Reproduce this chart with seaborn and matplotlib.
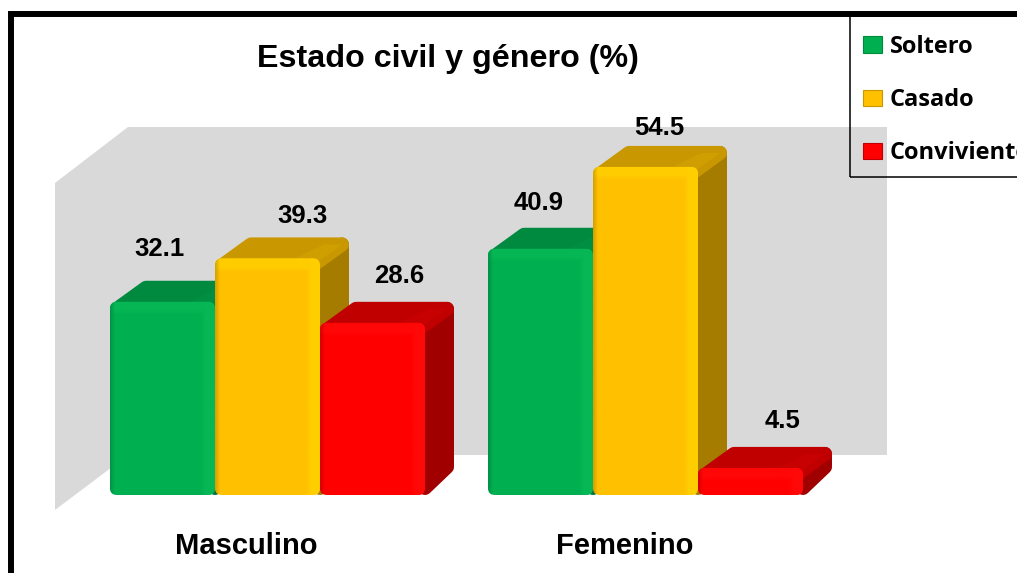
# Estado civil y genero (%) - barras con aspecto 3D
import numpy as np
import pandas as pd
import seaborn as sns
import matplotlib.pyplot as plt
from matplotlib.patches import Polygon, Rectangle, FancyBboxPatch
from matplotlib.transforms import Affine2D, IdentityTransform
from matplotlib.colors import to_rgb

generos = ['Masculino', 'Femenino']
estados = ['Soltero', 'Casado', 'Conviviente']
soltero = [32.1, 40.9]
casado = [39.3, 54.5]
conviviente = [28.6, 4.5]

# colores por estado: frente, tapa, lado, brillo
frente = ['#00b050', '#ffc000', '#ff0000']
tapa = ['#008a40', '#c99800', '#c00000']
lado = ['#00703a', '#a67c00', '#a00000']
brillo = ['#08b856', '#ffd000', '#ff0a0a']

# desplazamiento a mano de cada etiqueta (px) respecto al centro de la barra
label_dx = {'Soltero': [-3, -2], 'Casado': [35, 14], 'Conviviente': [27, 32]}
label_dy = {'Soltero': [53, 46], 'Casado': [42, 39], 'Conviviente': [47, 47]}

W, H = 1017, 573
DX, DY = 29, 21  # profundidad en px
R = 7            # redondeo de las aristas

df = pd.DataFrame({
    'genero': generos * 3,
    'estado': [e for e in estados for _ in generos],
    'valor': soltero + casado + conviviente,
})


def fx(x):
    return x / W


def fy(y):
    return 1 - y / H


sns.set_theme(style='white')
plt.rcParams['font.family'] = ['Liberation Sans', 'DejaVu Sans']

fig = plt.figure(figsize=(W / 100, H / 100), dpi=100, facecolor='white')
ax = fig.add_axes([fx(78.5), fy(495), 756 / W, 361.2 / H])
ax.patch.set_visible(False)
ax.set_zorder(5)

# pared del fondo y pared izquierda
pared = [(55, 183), (128, 127), (887, 127), (887, 455), (128, 455), (55, 510)]
fig.patches.append(Polygon([(fx(a), fy(b)) for a, b in pared], closed=True, facecolor='#d9d9d9',
                           edgecolor='none', transform=fig.transFigure, figure=fig))
# marco negro (se sale por la derecha y por abajo)
fig.patches.append(Rectangle((fx(11), fy(800)), 1.5, fy(14) - fy(800), fill=False, edgecolor='black',
                             linewidth=4.3, transform=fig.transFigure, figure=fig))
# recuadro de la leyenda
fig.patches.append(Rectangle((fx(850), fy(177)), 0.5, fy(16) - fy(177), fill=False, edgecolor='black',
                             linewidth=1.1, transform=fig.transFigure, figure=fig))

sns.barplot(data=df, x='genero', y='valor', hue='estado', order=generos, hue_order=estados,
            palette=frente, width=0.8333, gap=0, saturation=1, errorbar=None, linewidth=0, ax=ax)
ax.set_xlim(-0.5, 1.5)
ax.set_ylim(0, 60)


def bisel(i, ext, z, clip, ancho, alto):
    # banda clara a la derecha y arriba, borde oscuro a la izquierda
    ny, nx = int(alto), int(ancho)
    xx, yy = np.meshgrid(np.arange(nx) + 0.5, np.arange(ny) + 0.5)
    a = np.clip((xx - (nx - 14)) / 5, 0, 1) * 0.9
    a = np.maximum(a, np.clip(1 - (yy - 9) / 5, 0, 1) * 0.8)
    img = np.zeros((ny, nx, 4))
    img[..., :3] = to_rgb(brillo[i])
    img[..., 3] = a
    im = ax.imshow(img, extent=ext, aspect='auto', zorder=z, interpolation='bilinear')
    im.set_clip_path(clip)
    img2 = np.zeros((ny, nx, 4))
    img2[..., :3] = to_rgb(lado[i])
    img2[..., 3] = np.clip(1 - xx / 5, 0, 1) * 0.5
    im2 = ax.imshow(img2, extent=ext, aspect='auto', zorder=z, interpolation='bilinear')
    im2.set_clip_path(clip)


# volumen: lado y tapa de cada barra, de izquierda a derecha
barras = []
for i, cont in enumerate(ax.containers):
    for j, bar in enumerate(cont):
        barras.append((bar.get_x(), i, j, bar))
barras.sort(key=lambda b: b[0])

for n, (_, i, j, bar) in enumerate(barras):
    z = 3 + n * 3
    x0, y0 = ax.transData.transform((bar.get_x(), 0))
    x1, y1 = ax.transData.transform((bar.get_x() + bar.get_width(), bar.get_height()))
    r = R
    lw = 2 * r * 0.72
    pts_lado = [(x1, y0 + r), (x1 + DX - r, y0 + DY + r), (x1 + DX - r, y1 + DY - r), (x1, y1 - r)]
    pts_tapa = [(x0 + r, y1 - r), (x0 + DX + r, y1 + DY - r), (x1 + DX - r, y1 + DY - r), (x1 - r, y1 - r)]
    pts_claro = [(x1 - 25, y1), (x1 - 25 + DX, y1 + DY - r), (x1 + DX - r, y1 + DY - r), (x1 - r, y1 - r)]
    ax.add_patch(Polygon(pts_lado, closed=True, facecolor=lado[i], edgecolor=lado[i], linewidth=lw,
                         joinstyle='round', transform=IdentityTransform(), zorder=z, clip_on=False))
    ax.add_patch(Polygon(pts_tapa, closed=True, facecolor=tapa[i], edgecolor=tapa[i], linewidth=lw,
                         joinstyle='round', transform=IdentityTransform(), zorder=z, clip_on=False))
    ax.add_patch(Polygon(pts_claro, closed=True, facecolor=brillo[i], edgecolor='none', alpha=0.12,
                         transform=IdentityTransform(), zorder=z, clip_on=False))
    forma = FancyBboxPatch((x0, y0), x1 - x0, y1 - y0, boxstyle=f'round,pad=0,rounding_size={r}',
                           transform=IdentityTransform())
    bar.set_zorder(z + 1)
    bar.set_clip_path(forma)
    ext = (bar.get_x(), bar.get_x() + bar.get_width(), 0, bar.get_height())
    bisel(i, ext, z + 2, forma, x1 - x0, y1 - y0)

ax.set_xlim(-0.5, 1.5)
ax.set_ylim(0, 60)

# etiquetas de valor
for _, i, j, bar in barras:
    est = estados[i]
    ax.annotate(f'{bar.get_height():.1f}', (bar.get_x() + bar.get_width() / 2, bar.get_height()),
                xytext=(label_dx[est][j], label_dy[est][j]), textcoords='offset pixels',
                ha='center', va='center', fontsize=18.5, fontweight='bold', color='black',
                zorder=100, annotation_clip=False)

# ejes
sns.despine(ax=ax, left=True, bottom=True, top=True, right=True)
ax.set_xlabel('')
ax.set_ylabel('')
ax.set_yticks([])
ax.tick_params(axis='x', length=0, pad=27)
ax.set_xticks(range(len(generos)))
ax.set_xticklabels(generos, fontsize=21, fontweight='bold', color='black')
for lab in ax.get_xticklabels():
    lab.set_transform(lab.get_transform() + Affine2D().translate(-21, 0))

fig.text(fx(447.5), fy(59), 'Estado civil y género (%)', ha='center', va='center',
         fontsize=23.2, fontweight='bold', color='black')

# leyenda: se corta por el borde derecho igual que el original
sns.move_legend(ax, 'upper left', bbox_to_anchor=(fx(863), fy(35)), bbox_transform=fig.transFigure,
                title=None, frameon=False, borderaxespad=0, borderpad=0, labelspacing=1.23,
                handlelength=0.8, handleheight=0.7, handletextpad=0.34, labelcolor='black',
                prop={'family': 'Open Sans', 'weight': 'bold', 'size': 17})
leg = ax.get_legend()
leg.set_zorder(200)
for h, c in zip(leg.legend_handles, tapa):
    h.set_edgecolor(c)
    h.set_linewidth(0.8)

fig.savefig('out.png', dpi=100, facecolor='white')
